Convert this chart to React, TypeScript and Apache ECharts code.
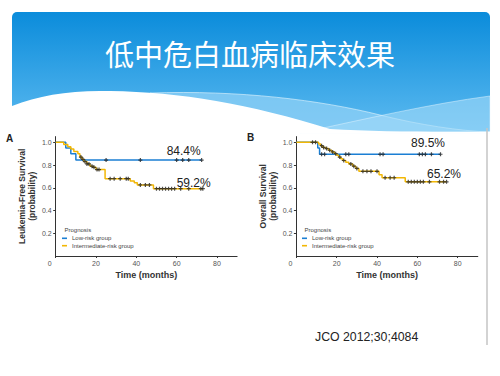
import React, { useEffect, useRef } from "react";
import * as echarts from "echarts";

// ---------- data ----------
const title = "低中危白血病临床效果";
const citation = "JCO 2012;30;4084";
const legendNames = ["Low-risk group", "Intermediate-risk group"];
const xTicks = [0, 20, 40, 60, 80];
const yTicks = [0.2, 0.4, 0.6, 0.8, 1.0];

// Panel A: Leukemia-free survival
const aLowT = [0, 5, 7.5, 10];
const aLowS = [1.0, 0.95, 0.9, 0.844];
const aLowEnd = 72.4;
const aLowCens = [25, 42, 60, 63, 66, 72.4];

const aIntT = [0, 4, 6, 7.5, 9, 11, 12, 13, 14, 15.5, 17, 18.5, 20, 24.5, 37, 39, 40.5, 48.5];
const aIntS = [1.0, 0.98, 0.96, 0.94, 0.92, 0.9, 0.87, 0.85, 0.83, 0.81, 0.79, 0.78, 0.76, 0.68, 0.66, 0.645, 0.625, 0.592];
const aIntEnd = 73;
const aIntCens = [12.5, 13.5, 14.5, 15.5, 16.5, 18, 19, 20.5, 21.5, 27, 29, 32, 35, 36, 42, 44.5, 46.5, 50, 51.5, 53, 54.5, 56, 57.5, 59, 62, 66, 72, 73];

// Panel B: Overall survival
const bLowT = [0, 10.6, 11.5];
const bLowS = [1.0, 0.95, 0.895];
const bLowEnd = 71.5;
const bLowCens = [12.5, 14, 24.5, 26, 41.5, 43, 61, 62.5, 64, 67, 71.5];

const bIntT = [0, 11, 12, 13, 14.5, 16, 17.5, 19, 20, 21, 22, 23, 24.5, 26, 28, 29.5, 31, 41, 42.5, 54];
const bIntS = [1.0, 0.985, 0.97, 0.955, 0.945, 0.93, 0.915, 0.9, 0.885, 0.87, 0.855, 0.84, 0.825, 0.81, 0.79, 0.77, 0.745, 0.715, 0.688, 0.652];
const bIntEnd = 74.5;
const bIntCens = [8, 9.5, 12.5, 13.5, 15, 16.5, 18, 19.5, 21.5, 23.5, 27, 28.5, 30, 33, 35, 37, 40, 44, 46.5, 48.5, 55.5, 57, 58.5, 60, 61.5, 63, 66, 71, 73, 74.5];

const pctLabels = ["84.4%", "59.2%", "89.5%", "65.2%"];

// ---------- helpers ----------
function stepData(t: number[], s: number[], end: number) {
  const d = t.map((v, i) => [v, s[i]]);
  d.push([end, s[s.length - 1]]);
  return d;
}
function survAt(t: number[], s: number[], x: number) {
  let v = s[0];
  for (let i = 0; i < t.length; i++) if (t[i] <= x) v = s[i];
  return v;
}
function censData(t: number[], s: number[], c: number[]) {
  return c.map((x) => [x, survAt(t, s, x)]);
}

// header shapes
echarts.graphic.registerShape(
  "waveWhite",
  echarts.graphic.extendPath(
    "M0,133.5 L0,108 L12,106 C40,95 70,90 110,91 C180,92 250,104 330,129 C380,132 440,132 500,131.5 L500,133.5 Z",
    {}
  )
);
echarts.graphic.registerShape(
  "waveLight1",
  echarts.graphic.extendPath(
    "M150,93 C240,90 320,100 380,115 C420,125 460,131 490,132 L150,132 Z",
    {}
  )
);
echarts.graphic.registerShape(
  "waveLight2",
  echarts.graphic.extendPath("M300,133 C370,118 430,104 490,96 L490,133 Z", {})
);

const BLUE = "#1b7fd4";
const GOLD = "#f2b705";
const FONT = "Liberation Sans, Arial, sans-serif";
const plusSymbol = "path://M0,2H4M2,0V4";

function makeAxes(idx: number, left: number, yName: string, nameGap: number) {
  const gridTop = 136.6;
  const gridH = 119.4;
  const grid = { left, top: gridTop, width: 181.4, height: gridH };
  const xAxis = {
    gridIndex: idx,
    type: "value",
    min: 0,
    max: 90,
    interval: 20,
    axisLine: { show: true, lineStyle: { color: "#333", width: 1 } },
    axisTick: { show: true, length: 2, lineStyle: { color: "#333" }, customValues: xTicks },
    axisLabel: {
      fontSize: 7,
      color: "#555",
      margin: 4,
      fontFamily: FONT,
      customValues: xTicks,
      formatter: (v: number) => (v === 0 ? "{z|0}" : String(v)),
      rich: { z: { fontSize: 7, color: "#555", fontFamily: FONT, padding: [0, 12, 0, 0] } },
    },
    splitLine: { show: false },
    name: "Time (months)",
    nameLocation: "middle",
    nameGap: 14,
    nameTextStyle: { fontSize: 9, color: "#333", fontWeight: "bold", fontFamily: FONT },
  };
  const yAxis = {
    gridIndex: idx,
    type: "value",
    min: 0,
    max: 1.05,
    axisLine: { show: true, lineStyle: { color: "#333", width: 1 } },
    axisTick: { show: true, length: 2.5, lineStyle: { color: "#333" }, customValues: yTicks },
    axisLabel: {
      fontSize: 7,
      color: "#555",
      margin: 4,
      fontFamily: FONT,
      customValues: yTicks,
      formatter: (v: number) => v.toFixed(1),
    },
    splitLine: { show: false },
    name: yName,
    nameLocation: "middle",
    nameGap,
    nameTextStyle: { fontSize: 8.5, color: "#333", fontWeight: "bold", fontFamily: FONT, lineHeight: 10.5 },
  };
  return { grid, xAxis, yAxis };
}

function lineSeries(name: string, color: string, idx: number, data: number[][]) {
  return {
    name,
    type: "line",
    step: "end",
    xAxisIndex: idx,
    yAxisIndex: idx,
    showSymbol: false,
    symbol: "none",
    data,
    lineStyle: { color, width: 1.5 },
    itemStyle: { color },
    z: 2,
  };
}
function censSeries(idx: number, data: number[][]) {
  return {
    type: "scatter",
    xAxisIndex: idx,
    yAxisIndex: idx,
    symbol: plusSymbol,
    symbolSize: 4,
    data,
    itemStyle: { color: "#222", borderColor: "#222", borderWidth: 1.2 },
    z: 3,
    silent: true,
  };
}

export default function App() {
  const ref = useRef<HTMLDivElement>(null);
  useEffect(() => {
    if (!ref.current) return;
    const chart = echarts.init(ref.current, null, { renderer: "svg" });
    const A = makeAxes(0, 55.7, "Leukemia-Free Survival\n(probability)", 18);
    const B = makeAxes(1, 296.4, "Overall Survival\n(probability)", 18);

    const legendCommon = {
      orient: "vertical",
      itemWidth: 5,
      itemHeight: 1.6,
      itemGap: 0.4,
      icon: "rect",
      selectedMode: false,
      padding: 0,
      data: legendNames,
      textStyle: { fontSize: 6, color: "#444", fontFamily: FONT, lineHeight: 7 },
    };

    const pctStyle = { fontSize: 12, fill: "#222", fontFamily: FONT };

    chart.setOption({
      animation: false,
      backgroundColor: "#ffffff",
      grid: [A.grid, B.grid],
      xAxis: [A.xAxis, B.xAxis],
      yAxis: [A.yAxis, B.yAxis],
      legend: [
        { ...legendCommon, left: 62, top: 234.8 },
        { ...legendCommon, left: 302, top: 234.8 },
      ],
      series: [
        lineSeries(legendNames[0], BLUE, 0, stepData(aLowT, aLowS, aLowEnd)),
        lineSeries(legendNames[1], GOLD, 0, stepData(aIntT, aIntS, aIntEnd)),
        censSeries(0, censData(aLowT, aLowS, aLowCens)),
        censSeries(0, censData(aIntT, aIntS, aIntCens)),
        lineSeries(legendNames[0], BLUE, 1, stepData(bLowT, bLowS, bLowEnd)),
        lineSeries(legendNames[1], GOLD, 1, stepData(bIntT, bIntS, bIntEnd)),
        censSeries(1, censData(bLowT, bLowS, bLowCens)),
        censSeries(1, censData(bIntT, bIntS, bIntCens)),
      ],
      graphic: [
        {
          type: "rect",
          shape: { x: 12, y: 12, width: 478, height: 120, r: [5, 5, 0, 0] },
          style: {
            fill: new echarts.graphic.LinearGradient(0, 0, 0, 1, [
              { offset: 0, color: "#0b8cdb" },
              { offset: 1, color: "#5cbaf0" },
            ]),
          },
          z: 0,
        },
        { type: "waveLight1", style: { fill: "#8fd0f6", opacity: 0.75, stroke: "#e8f6fe", lineWidth: 0.8 }, z: 1 },
        { type: "waveLight2", style: { fill: "#a4dbf8", opacity: 0.6, stroke: "#e8f6fe", lineWidth: 0.8 }, z: 1 },
        { type: "waveWhite", style: { fill: "#ffffff" }, z: 2 },
        {
          type: "text",
          x: 250,
          y: 53,
          style: {
            text: title,
            fill: "#ffffff",
            fontSize: 29,
            fontFamily: "Noto Sans CJK SC",
            align: "center",
            verticalAlign: "middle",
          },
          z: 10,
        },
        {
          type: "line",
          shape: { x1: 487, y1: 128, x2: 487, y2: 345 },
          style: { stroke: "#c4c4c4", lineWidth: 1.5 },
          z: 3,
        },
        { type: "text", z: 10, x: 9.7, y: 138, style: { text: "A", fontSize: 10, fontWeight: "bold", fill: "#222", fontFamily: FONT, align: "center", verticalAlign: "middle" } },
        { type: "text", z: 10, x: 250.5, y: 137, style: { text: "B", fontSize: 10, fontWeight: "bold", fill: "#222", fontFamily: FONT, align: "center", verticalAlign: "middle" } },
        { type: "text", z: 10, x: 64.5, y: 229.5, style: { text: "Prognosis", fontSize: 6, fill: "#444", fontFamily: FONT, verticalAlign: "middle" } },
        { type: "text", z: 10, x: 304.5, y: 229.5, style: { text: "Prognosis", fontSize: 6, fill: "#444", fontFamily: FONT, verticalAlign: "middle" } },
        { type: "text", z: 10, x: 200.7, y: 151, style: { ...pctStyle, text: pctLabels[0], align: "right", verticalAlign: "middle" } },
        { type: "text", z: 10, x: 210.7, y: 182.5, style: { ...pctStyle, text: pctLabels[1], align: "right", verticalAlign: "middle" } },
        { type: "text", z: 10, x: 445, y: 143.3, style: { ...pctStyle, text: pctLabels[2], align: "right", verticalAlign: "middle" } },
        { type: "text", z: 10, x: 461, y: 174.3, style: { ...pctStyle, text: pctLabels[3], align: "right", verticalAlign: "middle" } },
        { type: "text", z: 10, x: 315, y: 337, style: { text: citation, fontSize: 12.3, fill: "#222", fontFamily: FONT, verticalAlign: "middle" } },
      ],
    });
    return () => chart.dispose();
  }, []);
  return (
    <div
      ref={ref}
      style={{ position: "absolute", left: 0, top: 0, width: 500, height: 376 }}
    />
  );
}
